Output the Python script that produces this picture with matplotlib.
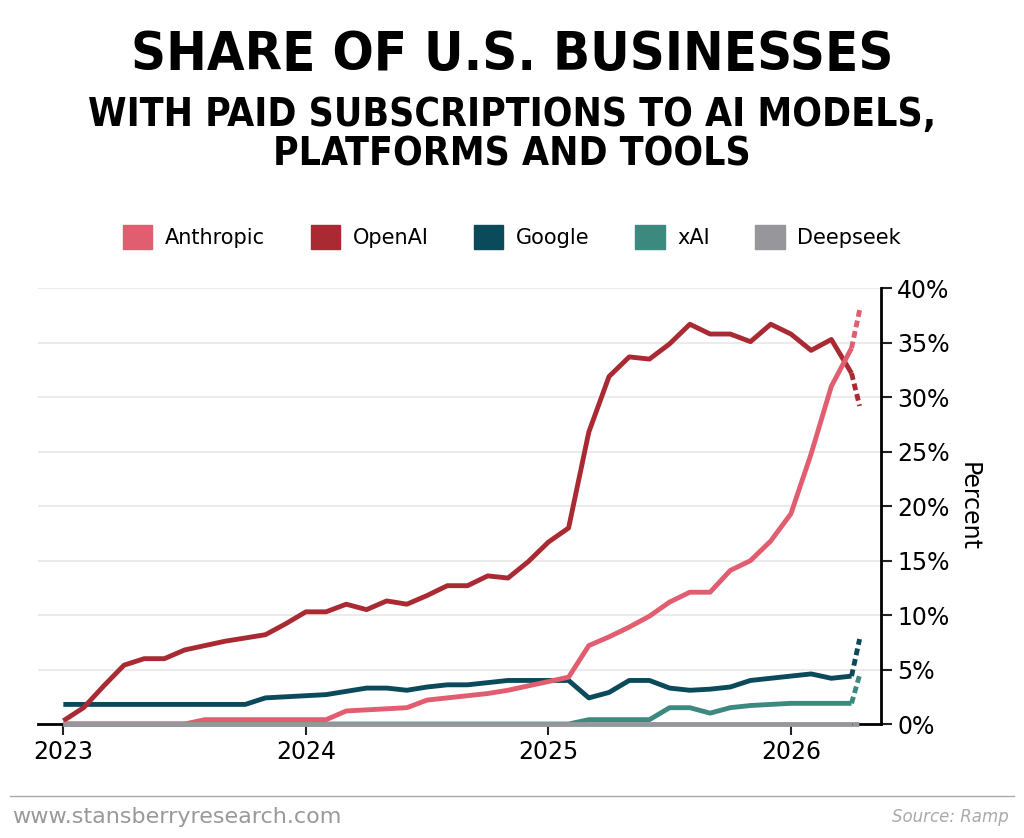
import matplotlib
matplotlib.use("Agg")
import matplotlib.pyplot as plt
import numpy as np
from matplotlib.patches import Patch

openai = [0.3,1.5,3.5,5.4,6.0,6.0,6.8,7.2,7.6,7.9,8.2,9.2,
          10.3,10.3,11.0,10.5,11.3,11.0,11.8,12.7,12.7,13.6,13.4,14.9,
          16.7,18.0,26.8,31.9,33.7,33.5,34.9,36.7,35.8,35.8,35.1,36.7,
          35.8,34.3,35.3,32.2]
anthropic = [0,0,0,0,0,0,0,0.4,0.4,0.4,0.4,0.4,
             0.4,0.4,1.2,1.3,1.4,1.5,2.2,2.4,2.6,2.8,3.1,3.5,
             3.9,4.3,7.2,8.0,8.9,9.9,11.2,12.1,12.1,14.1,15.0,16.8,
             19.3,24.8,31.0,34.5]
google = [1.8,1.8,1.8,1.8,1.8,1.8,1.8,1.8,1.8,1.8,2.4,2.5,
          2.6,2.7,3.0,3.3,3.3,3.1,3.4,3.6,3.6,3.8,4.0,4.0,
          4.0,4.0,2.4,2.9,4.0,4.0,3.3,3.1,3.2,3.4,4.0,4.2,
          4.4,4.6,4.2,4.4]
xai = [0]*26 + [0.4,0.4,0.4,0.4,1.5,1.5,1.0,1.5,1.7,1.8,1.9,1.9,1.9,1.9]
deepseek = [0]*40
proj_openai, proj_anthropic, proj_google, proj_xai, proj_deepseek = 29.2, 38.0, 7.8, 4.5, 0.0

x = 2023 + np.arange(40) / 12
x_proj = x[-1] + 0.4 / 12

series = [("Anthropic", anthropic, proj_anthropic, "#e05e6f"),
          ("OpenAI", openai, proj_openai, "#a92a33"),
          ("Google", google, proj_google, "#0b4a5a"),
          ("xAI", xai, proj_xai, "#3c8a7f"),
          ("Deepseek", deepseek, proj_deepseek, "#96969b")]

fig = plt.figure(figsize=(10.24, 8.38), dpi=100)
ax = fig.add_axes([0.037, 0.136, 0.823, 0.52])

order = [series[3], series[2], series[1], series[0], series[4]]
for i, (name, vals, proj, col) in enumerate(order):
    ax.plot(x, vals, color=col, lw=3.5, solid_capstyle="butt", zorder=3 + i, clip_on=False)
    ax.plot([x[-1], x_proj], [vals[-1], proj], color=col, lw=3.5, ls=(0, (1.4, 0.8)),
            zorder=3 + i, clip_on=False)

ax.set_xlim(2023 - 0.105, 2026.37)
ax.set_ylim(0, 40)
ax.yaxis.tick_right()
ax.yaxis.set_label_position("right")
ax.set_yticks(range(0, 41, 5))
ax.set_yticklabels([f"{v}%" for v in range(0, 41, 5)])
ax.set_xticks([2023, 2024, 2025, 2026])
ax.set_xticklabels(["2023", "2024", "2025", "2026"])
ax.tick_params(labelsize=17, length=8, width=1.5, color="#222222")
ax.tick_params(axis="y", pad=4)
ax.set_ylabel("Percent", fontsize=17, rotation=270, labelpad=22)
ax.grid(axis="y", color="#ebebeb", lw=1.5)
ax.set_axisbelow(True)
for s in ["top", "left"]:
    ax.spines[s].set_visible(False)
ax.spines["right"].set_linewidth(2)
ax.spines["bottom"].set_linewidth(2)

tf = "DejaVu Sans"
fig.text(0.5, 0.965, "SHARE OF U.S. BUSINESSES", ha="center", va="top",
         fontsize=39, fontweight="bold", family=tf, fontstretch="condensed")
fig.text(0.5, 0.885, "WITH PAID SUBSCRIPTIONS TO AI MODELS,\nPLATFORMS AND TOOLS", ha="center", va="top",
         fontsize=28, fontweight="bold", family=tf, fontstretch="condensed", linespacing=1.05)

handles = [Patch(color=c, label=n) for n, _, _, c in series]
fig.legend(handles=handles, loc="center", bbox_to_anchor=(0.5, 0.717), ncol=5, frameon=False,
           fontsize=15, handlelength=1.4, handleheight=1.4, columnspacing=2.2, handletextpad=0.6)

fig.add_artist(plt.Line2D([0.01, 0.99], [0.05, 0.05], color="#aaaaaa", lw=1))
fig.text(0.012, 0.025, "www.stansberryresearch.com", fontsize=16, color="#999999", va="center")
fig.text(0.985, 0.025, "Source: Ramp", fontsize=12, color="#aaaaaa", va="center", ha="right", style="italic")

fig.savefig("out.png", dpi=100)
